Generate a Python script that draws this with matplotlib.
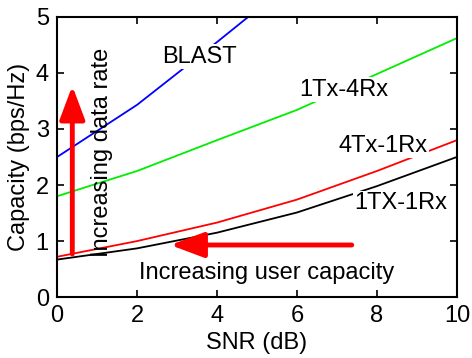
import matplotlib
matplotlib.use('Agg')
import matplotlib.pyplot as plt

# SNR points and capacities
snr = [0, 2, 4, 6, 8, 10]
blast = [2.5, 3.43, 4.55, 5.7, 6.9, 8.1]
tx1_rx4 = [1.8, 2.25, 2.8, 3.34, 3.98, 4.62]
tx4_rx1 = [0.72, 1.0, 1.33, 1.74, 2.25, 2.8]
tx1_rx1 = [0.67, 0.87, 1.15, 1.51, 1.98, 2.5]

plt.rcParams['font.family'] = ['Liberation Sans', 'DejaVu Sans']
plt.rcParams['font.size'] = 17

fig = plt.figure(figsize=(4.72, 3.58), dpi=100)
ax = fig.add_axes([0.121, 0.170, 0.847, 0.783])

ax.plot(snr, blast, color='blue', lw=1.3)
ax.plot(snr, tx1_rx4, color='#00ee00', lw=1.3)
ax.plot(snr, tx4_rx1, color='red', lw=1.3)
ax.plot(snr, tx1_rx1, color='black', lw=1.3)

# curve names sit on white boxes so the lines break behind them
box = dict(facecolor='white', edgecolor='none', pad=1)
ax.text(3.55, 4.29, 'BLAST', ha='center', va='center', bbox=box, zorder=5)
ax.text(7.17, 3.70, '1Tx-4Rx', ha='center', va='center', bbox=box, zorder=5)
ax.text(8.15, 2.70, '4Tx-1Rx', ha='center', va='center', bbox=box, zorder=5)
ax.text(8.6, 1.68, '1TX-1Rx', ha='center', va='center', bbox=box, zorder=5)
ax.text(5.25, 0.43, 'Increasing user capacity', ha='center', va='center', zorder=5)
ax.text(1.12, 2.59, 'Increasing data rate', ha='center', va='center',
        rotation=90, zorder=5)

arrow = dict(arrowstyle='-|>,head_length=1.2,head_width=0.45', lw=3.5,
             color='red', shrinkA=0, shrinkB=0)
ax.annotate('', xy=(0.38, 3.77), xytext=(0.38, 0.77), arrowprops=arrow, zorder=6)
ax.annotate('', xy=(2.83, 0.93), xytext=(7.37, 0.93), arrowprops=arrow, zorder=6)

ax.set_xlim(0, 10)
ax.set_ylim(0, 5)
ax.set_xticks([0, 2, 4, 6, 8, 10])
ax.set_yticks([0, 1, 2, 3, 4, 5])
ax.tick_params(direction='in', top=True, right=True, length=5, width=1.2, pad=6)
for s in ax.spines.values():
    s.set_linewidth(1.5)
ax.set_xlabel('SNR (dB)', labelpad=3)
ax.set_ylabel('Capacity (bps/Hz)', labelpad=4)

fig.savefig('out.png', dpi=100)
